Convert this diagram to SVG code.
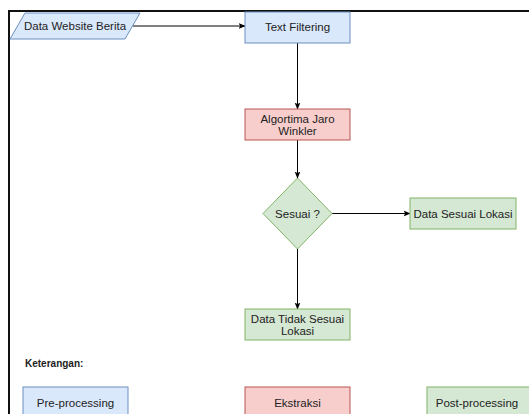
<svg xmlns="http://www.w3.org/2000/svg" width="529" height="414" viewBox="0 0 529 414">
<defs>
<style>
text{font-family:"Liberation Sans",Arial,sans-serif;font-size:11.5px;fill:#222;text-anchor:middle}
.blue{fill:#dae8fc;stroke:#6c8ebf;stroke-width:1}
.red{fill:#f8cecc;stroke:#b85450;stroke-width:1}
.green{fill:#d5e8d4;stroke:#82b366;stroke-width:1}
.edge{fill:none;stroke:#000;stroke-width:1;marker-end:url(#arr)}
</style>
<marker id="arr" viewBox="0 0 10 10" refX="9" refY="5" markerWidth="7" markerHeight="7" orient="auto" markerUnits="userSpaceOnUse">
<path d="M0,1 L10,5 L0,9 L2,5 Z" fill="#000"/>
</marker>
</defs>
<rect width="529" height="414" fill="#fff"/>
<path d="M9,414 V11 H529" fill="none" stroke="#111" stroke-width="2"/>
<g id="connectors">
<path class="edge" d="M133,26 H245"/>
<path class="edge" d="M297.5,43 V109"/>
<path class="edge" d="M297.5,140 V178"/>
<path class="edge" d="M332,213.5 H410"/>
<path class="edge" d="M297.5,249 V309"/>
</g>
<g id="data-website">
<polygon class="blue" points="25,13 140,13 125,39 10,39"/>
<text x="75" y="30">Data Website Berita</text>
</g>
<g id="text-filtering">
<rect class="blue" x="245" y="12" width="105" height="31"/>
<text x="297.5" y="31">Text Filtering</text>
</g>
<g id="jaro-winkler">
<rect class="red" x="245" y="109" width="105" height="31"/>
<text x="297.5" y="123">Algortima Jaro</text>
<text x="297.5" y="135">Winkler</text>
</g>
<g id="sesuai">
<polygon class="green" points="297.5,178 332,213.5 297.5,249 263,213.5"/>
<text x="297.5" y="217.5">Sesuai ?</text>
</g>
<g id="data-sesuai">
<rect class="green" x="410" y="198" width="106" height="31"/>
<text x="463" y="217.5">Data Sesuai Lokasi</text>
</g>
<g id="data-tidak-sesuai">
<rect class="green" x="245" y="309" width="105" height="31"/>
<text x="297.5" y="323">Data Tidak Sesuai</text>
<text x="297.5" y="335">Lokasi</text>
</g>
<g id="keterangan">
<text x="25" y="367" style="text-anchor:start;font-weight:bold;font-size:10px">Keterangan:</text>
</g>
<g id="legend-pre">
<rect class="blue" x="23" y="387" width="105" height="32"/>
<text x="75.5" y="407">Pre-processing</text>
</g>
<g id="legend-ekstraksi">
<rect class="red" x="245" y="387" width="105" height="32"/>
<text x="297.5" y="407">Ekstraksi</text>
</g>
<g id="legend-post">
<rect class="green" x="427" y="387" width="104" height="32"/>
<text x="477" y="407">Post-processing</text>
</g>
</svg>
